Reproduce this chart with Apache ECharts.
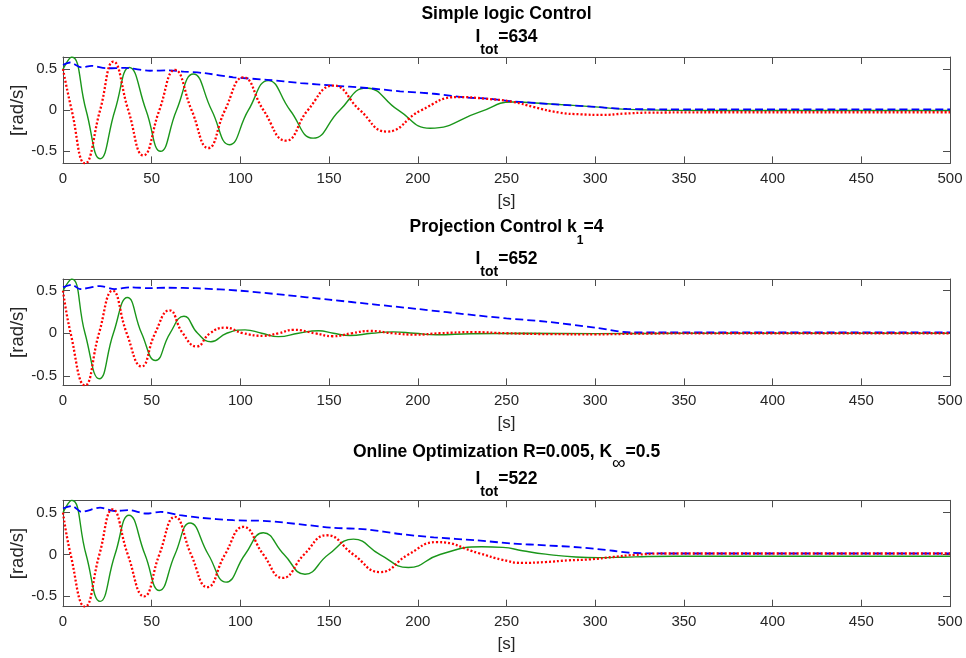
<!DOCTYPE html>
<html>
<head>
<meta charset="UTF-8">
<title>rad/s</title>
<script src="https://cdn.jsdelivr.net/npm/echarts@6/dist/echarts.min.js"></script>
<style>
  html, body { margin: 0; padding: 0; background: #fff; }
  #main { width: 966px; height: 658px; }
</style>
</head>
<body>
<div id="main"></div>
<script>
// ---- data: [t (s), value (rad/s)] ----
var simpleGreen = [[0,0.50],[4.9,0.647],[13,0],[20.9,-0.59],[29.3,0],[37.4,0.52],[46.8,0],[55,-0.50],[64,0],[73.5,0.44],[83.8,0],[93.8,-0.42],[104.5,0],[115.7,0.36],[128,0],[141,-0.34],[156,0],[171,0.27],[189,0],[207,-0.22],[235,-0.02],[253,0.10],[275,0.075],[300,0.04],[318,0.01],[340,0],[400,-0.004],[500,-0.004]];
var simpleBlue = [[0,0.55],[4,0.58],[10.5,0.52],[16,0.54],[25,0.51],[35,0.515],[49,0.48],[60,0.485],[68,0.47],[80,0.45],[96,0.40],[115,0.37],[134,0.33],[152,0.30],[171,0.27],[190,0.23],[209,0.20],[227,0.155],[240,0.14],[252,0.11],[275,0.075],[300,0.04],[318,0.015],[340,0.011],[500,0.011]];
var simpleRed = [[0,0.50],[4.9,0],[12.4,-0.647],[20.9,0],[28.4,0.59],[36.8,0],[45.3,-0.55],[54.3,0],[63.1,0.49],[72.5,0],[81.9,-0.46],[91.3,0],[101.7,0.40],[113,0],[125.7,-0.37],[138,0],[152.4,0.30],[167.4,0],[182.4,-0.26],[202,0],[222.8,0.16],[238,0.14],[254,0.10],[265,0.04],[280,-0.03],[292,-0.05],[304,-0.058],[316,-0.042],[330,-0.03],[380,-0.025],[500,-0.025]];

var projGreen = [[0,0.50],[4.9,0.638],[12.4,0],[20.5,-0.535],[28.4,0],[36.3,0.42],[44.3,0],[52.2,-0.32],[60.3,0],[68.2,0.20],[75.9,0],[83.4,-0.10],[92.3,0],[102.6,0.04],[112,0],[121.4,-0.04],[132.7,0],[144,0.03],[152.4,0],[161.8,-0.027],[174,0],[186,0.016],[198,0],[210.6,-0.018],[230,-0.005],[260,0],[300,-0.004],[350,0],[500,0]];
var projBlue = [[0,0.54],[5,0.57],[9.6,0.52],[20.9,0.555],[29,0.52],[38,0.54],[49,0.53],[58,0.535],[77,0.527],[100,0.50],[125,0.45],[150,0.395],[175,0.34],[200,0.285],[233,0.21],[250,0.175],[272,0.137],[300,0.066],[320,0.01],[340,0.01],[500,0.01]];
var projRed = [[0,0.50],[4.3,0],[12.4,-0.613],[20.3,0],[28,0.50],[35.9,0],[44.3,-0.39],[51.9,0],[60,0.27],[67.5,0],[75.3,-0.155],[82.9,0],[91.3,0.066],[101.7,0],[113,-0.03],[121.4,0],[130,0.04],[142,0],[152,-0.035],[162.7,0],[173,0.027],[186,0],[199,-0.016],[212.5,0],[231,0.013],[250,0],[275,-0.01],[300,-0.012],[330,-0.003],[400,0],[500,0]];

var onlineGreen = [[0,0.50],[4.9,0.648],[13,0],[20.9,-0.56],[29.3,0],[37.2,0.47],[46.2,0],[54.3,-0.43],[63.1,0],[71.6,0.376],[81.9,0],[91.9,-0.33],[102.6,0],[112.9,0.26],[124.6,0],[136.4,-0.236],[149.6,0],[163.7,0.184],[178.7,0],[194.7,-0.156],[212.5,0],[236,0.092],[248,0.085],[259,0.045],[272,0.004],[289,-0.03],[302,-0.037],[316,-0.032],[330,-0.024],[360,-0.02],[500,-0.02]];
var onlineBlue = [[0,0.55],[5,0.58],[10.5,0.51],[20.9,0.56],[29,0.52],[37,0.53],[47,0.49],[55,0.51],[66,0.47],[77,0.44],[96,0.41],[115,0.40],[134,0.36],[152,0.32],[171,0.30],[190,0.245],[209,0.205],[233,0.17],[254,0.13],[272,0.11],[291,0.085],[310,0.045],[320,0.02],[340,0.012],[500,0.012]];
var onlineRed = [[0,0.50],[4.3,0],[12.4,-0.624],[20.5,0],[28,0.54],[36.5,0],[45.7,-0.50],[54.3,0],[63.1,0.45],[72.2,0],[81.4,-0.39],[91.3,0],[101.7,0.33],[112.9,0],[123.8,-0.28],[135.9,0],[148.6,0.23],[163.7,0],[178.7,-0.21],[194.7,0],[210.6,0.148],[235,0.012],[247,-0.06],[259,-0.10],[272,-0.09],[285,-0.07],[297,-0.058],[310,-0.03],[322,-0.005],[340,0.012],[500,0.012]];

var panelData = [
  [simpleGreen, simpleBlue, simpleRed],
  [projGreen, projBlue, projRed],
  [onlineGreen, onlineBlue, onlineRed]
];
var yRanges = [[-0.647, 0.647], [-0.613, 0.638], [-0.624, 0.648]];
var yTicks = [-0.5, 0, 0.5];
var xMin = 0, xMax = 500, xStep = 50;
var titleLines = [
  ['{b|Simple logic Control}', '{b|I}{s|tot}{b|=634}'],
  ['{b|Projection Control k}{s1|1}{b|=4}', '{b|I}{s|tot}{b|=652}'],
  ['{b|Online Optimization R=0.005, K}{inf|∞}{b|=0.5}', '{b|I}{s|tot}{b|=522}']
];

// ---- layout ----
var font = "'Liberation Sans', Arial, Helvetica, sans-serif";
var gridTops = [57, 279, 500.3];
var gridH = 106.4;
var titleTops = [[4.2, 27.5], [217.5, 249.2], [442.5, 469.2]];
var axisColor = '#4d4d4d';
var txtColor = '#262626';

var rich = {
  b:   { fontFamily: font, fontSize: 17.5, fontWeight: 'bold', color: '#000', lineHeight: 20 },
  s:   { fontFamily: font, fontSize: 14, fontWeight: 'bold', color: '#000', lineHeight: 20, padding: [26, 0, 0, 0] },
  s1:  { fontFamily: font, fontSize: 12, fontWeight: 'bold', color: '#000', lineHeight: 20, padding: [26, 0, 0, 0] },
  inf: { fontFamily: font, fontSize: 19, fontWeight: 'normal', color: '#000', lineHeight: 20, padding: [23, 0, 0, 0] }
};

var titles = [], grids = [], xAxes = [], yAxes = [], series = [];
var colors = ['#1a961a', '#0000ff', '#ff0000'];

for (var i = 0; i < 3; i++) {
  for (var k = 0; k < 2; k++) {
    titles.push({
      text: titleLines[i][k],
      left: 506.5, top: titleTops[i][k], textAlign: 'center', padding: 0,
      textStyle: { rich: rich }
    });
  }
  grids.push({ left: 63, top: gridTops[i], width: 887, height: gridH, outerBoundsMode: 'none' });

  var xBase = {
    type: 'value', gridIndex: i, min: xMin, max: xMax, interval: xStep,
    axisLine: { show: true, onZero: false, lineStyle: { color: axisColor, width: 1 } },
    axisTick: { show: true, inside: true, length: 7, lineStyle: { color: axisColor } },
    splitLine: { show: false }
  };
  xAxes.push(Object.assign({}, xBase, {
    position: 'bottom',
    axisLabel: { show: true, margin: 8, fontFamily: font, fontSize: 15, color: txtColor },
    name: '[s]', nameLocation: 'middle', nameGap: 29, nameMoveOverlap: false,
    nameTextStyle: { fontFamily: font, fontSize: 17, color: txtColor }
  }));
  xAxes.push(Object.assign({}, xBase, { position: 'top', axisLabel: { show: false } }));

  var yBase = {
    type: 'value', gridIndex: i, min: yRanges[i][0], max: yRanges[i][1],
    axisLine: { show: true, onZero: false, lineStyle: { color: axisColor, width: 1 } },
    axisTick: { show: true, inside: true, length: 7, customValues: yTicks, lineStyle: { color: axisColor } },
    splitLine: { show: false }
  };
  yAxes.push(Object.assign({}, yBase, {
    position: 'left',
    axisLabel: { show: true, customValues: yTicks, margin: 6, fontFamily: font, fontSize: 15, color: txtColor },
    name: '[rad/s]', nameLocation: 'middle', nameGap: 36, nameMoveOverlap: false,
    nameTextStyle: { fontFamily: font, fontSize: 18.5, color: txtColor }
  }));
  yAxes.push(Object.assign({}, yBase, { position: 'right', axisLabel: { show: false } }));

  var styles = [
    { color: colors[0], width: 1.4, type: 'solid' },
    { color: colors[1], width: 1.8, type: [8, 4] },
    { color: colors[2], width: 2.3, type: [2, 2] }
  ];
  for (var s = 0; s < 3; s++) {
    series.push({
      type: 'line', xAxisIndex: 2 * i, yAxisIndex: 2 * i,
      data: panelData[i][s], showSymbol: false, symbol: 'none',
      smooth: s === 1 ? 0.3 : 0.5, clip: true, z: 2 + s,
      lineStyle: styles[s], emphasis: { disabled: true }
    });
  }
}

var myChart = echarts.init(document.getElementById('main'));
myChart.setOption({
  animation: false,
  backgroundColor: '#fff',
  title: titles,
  grid: grids,
  xAxis: xAxes,
  yAxis: yAxes,
  series: series
});
</script>
</body>
</html>
